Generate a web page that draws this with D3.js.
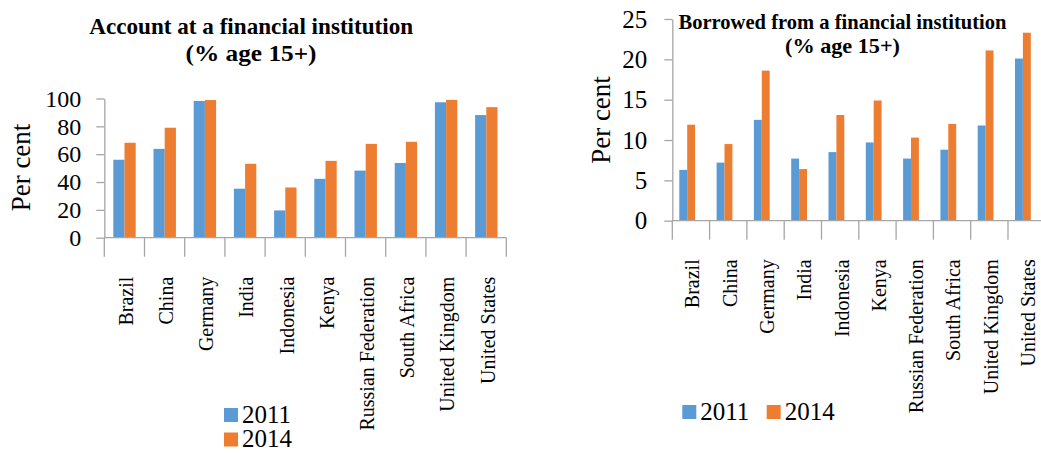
<!DOCTYPE html>
<html>
<head>
<meta charset="utf-8">
<script src="https://cdn.jsdelivr.net/npm/d3@7"></script>
<style>
  html, body { margin: 0; padding: 0; background: #fff; }
  svg { display: block; }
  text { font-family: "Liberation Serif", "Times New Roman", serif; fill: #000; }
</style>
</head>
<body>
<svg id="chart" width="1041" height="453"></svg>
<script>
// ---------- data ----------
const categories = ["Brazil", "China", "Germany", "India", "Indonesia", "Kenya",
  "Russian Federation", "South Africa", "United Kingdom", "United States"];
const seriesNames = ["2011", "2014"];
const account2011 = [56.0, 63.8, 98.2, 35.2, 19.6, 42.3, 48.2, 53.7, 97.3, 88.1];
const account2014 = [68.2, 79.0, 98.9, 53.1, 36.1, 55.2, 67.4, 68.9, 99.0, 93.8];
const borrow2011 = [6.3, 7.2, 12.5, 7.7, 8.5, 9.7, 7.7, 8.8, 11.8, 20.1];
const borrow2014 = [11.9, 9.5, 18.6, 6.4, 13.1, 14.9, 10.3, 12.0, 21.1, 23.3];
const accountTicks = [0, 20, 40, 60, 80, 100];
const borrowTicks = [0, 5, 10, 15, 20, 25];
const colors = ["#5B9BD5", "#ED7D31"];
const axisColor = "#A6A6A6";

const svg = d3.select("#chart");

function drawChart(cfg) {
  const g = svg.append("g");
  const x = d3.scaleBand().domain(categories).range([cfg.x0, cfg.x1]).padding(0);
  const xi = d3.scaleBand().domain(seriesNames)
    .range([cfg.barOffset, cfg.barOffset + cfg.pairWidth]).padding(0);
  const y = d3.scaleLinear().domain(cfg.domain).range([cfg.yBottom, cfg.yTop]);

  // bars
  cfg.series.forEach((vals, si) => {
    g.append("g").selectAll("rect")
      .data(categories.map((c, i) => ({ c, v: vals[i] })))
      .join("rect")
      .attr("x", d => x(d.c) + xi(seriesNames[si]))
      .attr("width", xi.bandwidth())
      .attr("y", d => y(d.v))
      .attr("height", d => y(0) - y(d.v))
      .attr("fill", colors[si]);
  });

  // y axis
  const ya = g.append("g")
    .attr("transform", `translate(${cfg.x0},0)`)
    .call(d3.axisLeft(y).tickValues(cfg.ticks).tickSize(8).tickSizeOuter(0)
      .tickPadding(cfg.tickPad).tickFormat(d3.format("d")));
  ya.select(".domain").attr("stroke", axisColor).attr("stroke-width", 1.3);
  ya.selectAll(".tick line").attr("stroke", axisColor).attr("stroke-width", 1.3);
  ya.selectAll(".tick text").attr("font-family", "Liberation Serif")
    .attr("font-size", cfg.tickFont).attr("fill", "#000");

  // x axis line
  g.append("line")
    .attr("x1", cfg.x0).attr("x2", cfg.x1)
    .attr("y1", y(0)).attr("y2", y(0))
    .attr("stroke", axisColor).attr("stroke-width", 1.3);
  // category boundary ticks
  const bounds = categories.map(c => x(c)).concat([cfg.x1]);
  g.append("g").selectAll("line").data(bounds).join("line")
    .attr("x1", d => d).attr("x2", d => d)
    .attr("y1", y(0)).attr("y2", y(0) + 19)
    .attr("stroke", axisColor).attr("stroke-width", 1.3);

  // category labels
  g.append("g").selectAll("text").data(categories).join("text")
    .attr("transform", c => `translate(${x(c) + x.bandwidth() / 2},${cfg.labelTop}) rotate(-90)`)
    .attr("text-anchor", "end")
    .attr("dy", "0.42em")
    .attr("font-size", 20)
    .text(c => c);

  // y axis title
  g.append("text")
    .attr("transform", `translate(${cfg.yTitleX},${cfg.yTitleY}) rotate(-90)`)
    .attr("text-anchor", "middle")
    .attr("font-size", 27)
    .text("Per cent");

  // chart title
  cfg.title.forEach(t => {
    g.append("text")
      .attr("x", t.x).attr("y", t.y)
      .attr("text-anchor", "middle")
      .attr("font-weight", "bold")
      .attr("font-size", t.size)
      .attr("textLength", t.len)
      .attr("lengthAdjust", "spacingAndGlyphs")
      .text(t.text);
  });

  // legend
  cfg.legend.forEach((l, i) => {
    g.append("rect").attr("x", l.x).attr("y", l.y).attr("width", 14).attr("height", 14)
      .attr("fill", colors[i]);
    g.append("text").attr("x", l.x + 18).attr("y", l.y + 14.5)
      .attr("font-size", 25).text(seriesNames[i]);
  });
}

drawChart({
  x0: 104.3, x1: 506.3,
  barOffset: 9, pairWidth: 22.4,
  domain: [0, 100], yBottom: 237.7, yTop: 98.5,
  ticks: accountTicks, tickPad: 15, tickFont: 24,
  series: [account2011, account2014],
  labelTop: 276.7,
  yTitleX: 29.5, yTitleY: 167.5,
  title: [
    { text: "Account at a financial institution", x: 251.2, y: 34, size: 24, len: 324 },
    { text: "(% age 15+)", x: 251, y: 61, size: 24, len: 131 }
  ],
  legend: [{ x: 224, y: 408 }, { x: 224, y: 432.5 }]
});

drawChart({
  x0: 672.3, x1: 1045.3,
  barOffset: 7, pairWidth: 15.8,
  domain: [0, 25], yBottom: 220.7, yTop: 19,
  ticks: borrowTicks, tickPad: 17, tickFont: 25,
  series: [borrow2011, borrow2014],
  labelTop: 259.3,
  yTitleX: 609.5, yTitleY: 120,
  title: [
    { text: "Borrowed from a financial institution", x: 842.5, y: 29, size: 22, len: 328 },
    { text: "(% age 15+)", x: 842.5, y: 53, size: 21, len: 115 }
  ],
  legend: [{ x: 682.3, y: 405 }, { x: 766.7, y: 405 }]
});
</script>
</body>
</html>
